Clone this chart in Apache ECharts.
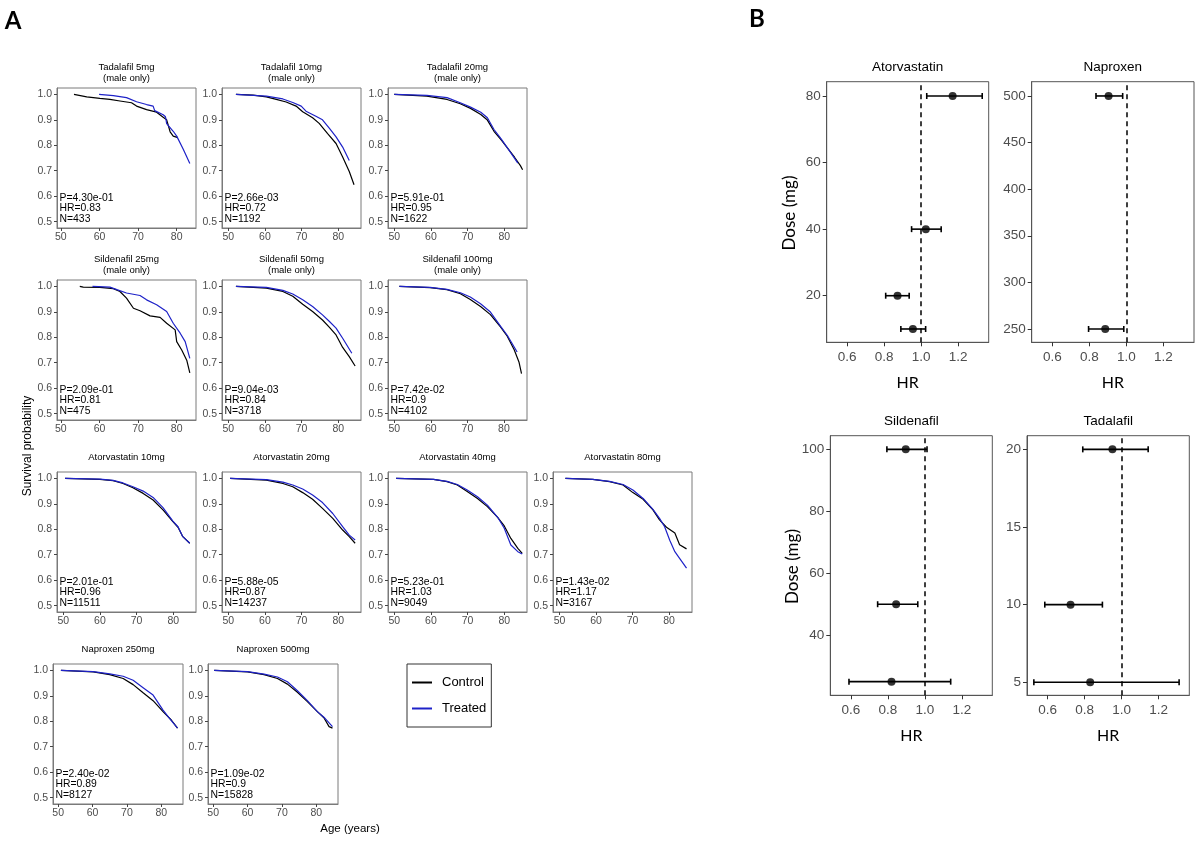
<!DOCTYPE html>
<html>
<head>
<meta charset="utf-8">
<script src="https://cdn.jsdelivr.net/npm/echarts@6/dist/echarts.min.js"></script>
<style>
  html, body { margin: 0; padding: 0; background: #fff; }
  #chart { width: 1200px; height: 846px; }
</style>
</head>
<body>
<div id="chart"></div>
<script>
// ---- Panel A: Kaplan-Meier curves, [age, survival probability] ----
const tad5Control = [[53.4,1.0],[56.7,0.99],[60.1,0.984],[62.7,0.98],[65.3,0.974],[68.3,0.967],[69.6,0.954],[72.2,0.94],[74.8,0.93],[76.5,0.91],[77.4,0.9],[78.3,0.853],[79.1,0.836],[79.6,0.833],[80.3,0.83]];
const tad5Treated = [[59.9,1.0],[63.6,0.995],[67,0.987],[69.6,0.971],[72.2,0.96],[73.9,0.954],[74.3,0.936],[76.5,0.92],[77.1,0.912],[77.4,0.885],[79.1,0.855],[80,0.836],[81.7,0.784],[83.4,0.728]];
const tad10Control = [[52.1,1.0],[56.8,0.997],[60.4,0.99],[63.1,0.98],[65.8,0.97],[68.5,0.954],[70.3,0.932],[73,0.908],[74.8,0.886],[77.1,0.846],[79.4,0.807],[81.2,0.754],[83,0.697],[84.3,0.645]];
const tad10Treated = [[52.1,1.0],[60.4,0.993],[64.9,0.982],[67.6,0.968],[69.9,0.954],[71.2,0.934],[73.9,0.914],[75.7,0.9],[77.6,0.866],[79.4,0.833],[81.2,0.793],[83,0.74]];
const tad20Control = [[50,1.0],[58.9,0.993],[64.4,0.98],[68,0.963],[70.8,0.945],[73.6,0.921],[75.4,0.899],[77.2,0.855],[79.1,0.822],[80.9,0.789],[82.8,0.753],[84.4,0.72],[85,0.704]];
const tad20Treated = [[50,1.0],[58.9,0.996],[64.4,0.987],[68,0.967],[70.8,0.95],[73.6,0.93],[75.4,0.908],[77.2,0.862],[79.1,0.826],[80.9,0.789],[83.7,0.73]];
const sil25Control = [[54.9,1.0],[55.8,0.997],[60.1,0.996],[63.6,0.991],[65.3,0.98],[67,0.954],[68.8,0.914],[70.5,0.904],[73.1,0.884],[75.7,0.878],[77.4,0.855],[79.6,0.829],[80,0.783],[81.3,0.75],[82.6,0.71],[83.4,0.66]];
const sil25Treated = [[58.2,1.0],[62.7,0.997],[64.5,0.987],[67,0.974],[70.5,0.964],[72.2,0.947],[74.8,0.928],[77.4,0.901],[79.1,0.855],[80.9,0.816],[82.2,0.783],[83.4,0.717]];
const sil50Control = [[52.1,1.0],[60.4,0.993],[64.9,0.98],[67.6,0.961],[70.3,0.93],[73,0.901],[75.7,0.868],[77.6,0.839],[79.4,0.809],[81.2,0.76],[83,0.724],[84.6,0.687]];
const sil50Treated = [[52.1,1.0],[60.4,0.996],[64.9,0.984],[67.6,0.97],[70.3,0.947],[73,0.921],[75.7,0.888],[77.6,0.862],[79.4,0.836],[81.2,0.796],[83.7,0.737]];
const sil100Control = [[51.4,1.0],[59.8,0.995],[64.4,0.987],[68.1,0.971],[70.8,0.948],[73.6,0.921],[76.3,0.889],[79.1,0.84],[80.9,0.804],[82.8,0.751],[84.1,0.703],[84.8,0.657]];
const sil100Treated = [[51.4,1.0],[59.8,0.996],[64.4,0.988],[68.1,0.975],[70.8,0.958],[73.6,0.932],[76.3,0.899],[79.1,0.843],[80.9,0.808],[83.6,0.742]];
const ator10Control = [[50.5,1.0],[60,0.996],[63.6,0.991],[66.3,0.98],[69,0.963],[71.8,0.941],[74.5,0.915],[77.2,0.876],[79.9,0.83],[81.3,0.808],[82.6,0.771],[84.5,0.745]];
const ator10Treated = [[50.5,1.0],[60,0.997],[63.6,0.992],[66.3,0.982],[69,0.967],[71.8,0.95],[74.5,0.925],[77.2,0.885],[79.9,0.832],[81.3,0.81],[82.6,0.771],[84.5,0.745]];
const ator20Control = [[50.5,1.0],[60.4,0.993],[64.9,0.98],[67.6,0.967],[70.3,0.944],[73,0.918],[75.7,0.882],[78.5,0.843],[81.2,0.797],[83,0.771],[84.6,0.745]];
const ator20Treated = [[50.5,1.0],[60.4,0.995],[64.9,0.985],[67.6,0.974],[70.3,0.958],[73,0.935],[75.7,0.905],[78.5,0.862],[81.2,0.81],[83,0.777],[84.6,0.758]];
const ator40Control = [[50.5,1.0],[60.7,0.996],[64.4,0.987],[67.2,0.974],[69.9,0.948],[72.7,0.921],[75.4,0.889],[78.2,0.847],[80,0.813],[81.8,0.764],[83.7,0.725],[84.9,0.705]];
const ator40Treated = [[50.5,1.0],[60.7,0.996],[64.4,0.988],[67.2,0.976],[69.9,0.954],[72.7,0.928],[75.4,0.895],[78.2,0.847],[80,0.804],[81.8,0.738],[83.7,0.712],[84.9,0.703]];
const ator80Control = [[51.6,1.0],[59.1,0.996],[63.7,0.987],[67.4,0.974],[70.1,0.944],[72.9,0.918],[75.6,0.876],[77.4,0.837],[79.3,0.808],[81.6,0.785],[82.9,0.739],[84.8,0.723]];
const ator80Treated = [[51.6,1.0],[59.1,0.996],[63.7,0.988],[67.4,0.976],[70.1,0.954],[72.9,0.921],[75.6,0.878],[77.4,0.843],[78.8,0.81],[80.2,0.757],[81.6,0.712],[82.9,0.686],[84.8,0.647]];
const nap250Control = [[50.8,1.0],[60.2,0.994],[65,0.983],[68.9,0.968],[71.8,0.944],[74.7,0.912],[77.6,0.881],[80.5,0.838],[82.9,0.805],[84.7,0.773]];
const nap250Treated = [[50.8,1.0],[60.2,0.995],[65,0.986],[68.9,0.977],[71.8,0.961],[74.7,0.932],[77.6,0.903],[80.5,0.844],[82.9,0.803],[84.7,0.773]];
const nap500Control = [[50.3,1.0],[60,0.994],[64.8,0.983],[68.7,0.968],[71.6,0.946],[74.5,0.914],[77.4,0.877],[80.3,0.838],[82.2,0.814],[83.7,0.779],[84.7,0.773]];
const nap500Treated = [[50.3,1.0],[60,0.995],[64.8,0.985],[68.7,0.974],[71.6,0.955],[74.5,0.92],[77.4,0.881],[80.3,0.838],[82.2,0.816],[84.7,0.779]];

const panelNames = ["Tadalafil 5mg", "Tadalafil 10mg", "Tadalafil 20mg",
  "Sildenafil 25mg", "Sildenafil 50mg", "Sildenafil 100mg",
  "Atorvastatin 10mg", "Atorvastatin 20mg", "Atorvastatin 40mg", "Atorvastatin 80mg",
  "Naproxen 250mg", "Naproxen 500mg"];
const panelNotes = ["(male only)", "(male only)", "(male only)", "(male only)", "(male only)", "(male only)",
  "", "", "", "", "", ""];
const pValues = ["4.30e-01", "2.66e-03", "5.91e-01", "2.09e-01", "9.04e-03", "7.42e-02",
  "2.01e-01", "5.88e-05", "5.23e-01", "1.43e-02", "2.40e-02", "1.09e-02"];
const hrValues = ["0.83", "0.72", "0.95", "0.81", "0.84", "0.9", "0.96", "0.87", "1.03", "1.17", "0.89", "0.9"];
const nValues = ["433", "1192", "1622", "475", "3718", "4102", "11511", "14237", "9049", "3167", "8127", "15828"];
const controlCurves = [tad5Control, tad10Control, tad20Control, sil25Control, sil50Control, sil100Control,
  ator10Control, ator20Control, ator40Control, ator80Control, nap250Control, nap500Control];
const treatedCurves = [tad5Treated, tad10Treated, tad20Treated, sil25Treated, sil50Treated, sil100Treated,
  ator10Treated, ator20Treated, ator40Treated, ator80Treated, nap250Treated, nap500Treated];
const ageTicks = [50, 60, 70, 80];
const survTicks = [0.5, 0.6, 0.7, 0.8, 0.9, 1.0];

// ---- Panel B: hazard ratio by dose ----
const forestDrugs = ["Atorvastatin", "Naproxen", "Sildenafil", "Tadalafil"];
const atorvaDose = [80, 40, 20, 10];
const atorvaHR = [1.17, 1.025, 0.872, 0.955];
const atorvaLow = [1.03, 0.948, 0.808, 0.89];
const atorvaHigh = [1.33, 1.108, 0.935, 1.024];
const naproxenDose = [500, 250];
const naproxenHR = [0.904, 0.886];
const naproxenLow = [0.836, 0.796];
const naproxenHigh = [0.98, 0.986];
const sildenafilDose = [100, 50, 25];
const sildenafilHR = [0.897, 0.845, 0.82];
const sildenafilLow = [0.795, 0.745, 0.59];
const sildenafilHigh = [1.012, 0.962, 1.14];
const tadalafilDose = [20, 10, 5];
const tadalafilHR = [0.95, 0.724, 0.83];
const tadalafilLow = [0.79, 0.585, 0.526];
const tadalafilHigh = [1.143, 0.896, 1.31];
const hrTicks = [0.6, 0.8, 1.0, 1.2];
const doseTicks = [[20, 40, 60, 80], [250, 300, 350, 400, 450, 500], [40, 60, 80, 100], [5, 10, 15, 20]];

// ---- layout ----
const HELV = '"Liberation Sans", Arial, Helvetica, sans-serif';
const CAL = 'Lato, "Open Sans", sans-serif';
const BLUE = '#1e22c8';
const rowTops = [88, 280, 472, 664];
const colLefts = [57, 222, 388, 553];
const lastRowLefts = [53, 208];
const cells = [[0,0],[0,1],[0,2],[1,0],[1,1],[1,2],[2,0],[2,1],[2,2],[2,3],[3,0],[3,1]];
const ageRanges = [[49,85],[48.3,86.2],[48.3,86.2],[49,85],[48.3,86.2],[48.3,86.3],
  [48.3,86.2],[48.3,86.2],[48.3,86.2],[48.2,86.3],[48.5,86.3],[48.5,86.3]];
const forestBoxes = [
  { left: 826.7, top: 81.7, width: 162, height: 260.6 },
  { left: 1031.7, top: 81.7, width: 162.3, height: 260.6 },
  { left: 830.3, top: 435.7, width: 162, height: 259.6 },
  { left: 1027, top: 435.7, width: 162.3, height: 259.6 }
];
const doseRanges = [[6, 84.3], [235.7, 515.3], [20.6, 104.4], [4.16, 20.88]];
const hrRange = [0.489, 1.365];

const grids = [], xAxes = [], yAxes = [], series = [], graphics = [];

function txt(x, y, text, size, opts) {
  opts = opts || {};
  graphics.push({
    type: 'text', x: x, y: y, rotation: opts.rotation || 0, silent: true,
    style: {
      text: text, fontSize: size, fontFamily: opts.font || HELV,
      fontWeight: opts.weight || 'normal', fill: opts.color || '#000',
      align: opts.align || 'center', verticalAlign: 'middle'
    }
  });
}

cells.forEach(function (cell, i) {
  const r = cell[0], c = cell[1];
  const left = r === 3 ? lastRowLefts[c] : colLefts[c];
  const width = r === 3 ? 130 : 139;
  const top = rowTops[r], height = 140;
  grids.push({ left: left, top: top, width: width, height: height, show: true,
    borderColor: '#7a7a7a', borderWidth: 1, containLabel: false });
  xAxes.push({
    type: 'value', gridIndex: i, min: ageRanges[i][0], max: ageRanges[i][1],
    axisLine: { show: true, lineStyle: { color: '#7a7a7a' } },
    axisTick: { show: true, length: 3, customValues: ageTicks, lineStyle: { color: '#444' } },
    axisLabel: { customValues: ageTicks, margin: 4, fontSize: 10.5, fontFamily: HELV, color: '#4d4d4d' },
    splitLine: { show: false }
  });
  yAxes.push({
    type: 'value', gridIndex: i, min: 0.475, max: 1.025,
    axisLine: { show: true, lineStyle: { color: '#7a7a7a' } },
    axisTick: { show: true, length: 3, customValues: survTicks, lineStyle: { color: '#444' } },
    axisLabel: { customValues: survTicks, margin: 5, fontSize: 10.5, fontFamily: HELV, color: '#4d4d4d',
      formatter: function (v) { return v.toFixed(1); } },
    splitLine: { show: false }
  });
  series.push({ name: 'Control', type: 'line', xAxisIndex: i, yAxisIndex: i, data: controlCurves[i],
    showSymbol: false, color: '#000', lineStyle: { color: '#000', width: 1.2 }, silent: true, z: 2 });
  series.push({ name: 'Treated', type: 'line', xAxisIndex: i, yAxisIndex: i, data: treatedCurves[i],
    showSymbol: false, color: BLUE, lineStyle: { color: BLUE, width: 1.2 }, silent: true, z: 3 });

  const cx = left + width / 2;
  if (panelNotes[i]) {
    txt(cx, top - 21, panelNames[i], 9.5);
    txt(cx, top - 10, panelNotes[i], 9.5);
  } else {
    txt(cx, top - 15, panelNames[i], 9.5);
  }
  const bottom = top + height;
  txt(left + 2.5, bottom - 30, 'P=' + pValues[i], 10.4, { align: 'left' });
  txt(left + 2.5, bottom - 19.5, 'HR=' + hrValues[i], 10.4, { align: 'left' });
  txt(left + 2.5, bottom - 9, 'N=' + nValues[i], 10.4, { align: 'left' });
});

const forestDose = [atorvaDose, naproxenDose, sildenafilDose, tadalafilDose];
const forestHR = [atorvaHR, naproxenHR, sildenafilHR, tadalafilHR];
const forestLow = [atorvaLow, naproxenLow, sildenafilLow, tadalafilLow];
const forestHigh = [atorvaHigh, naproxenHigh, sildenafilHigh, tadalafilHigh];

forestBoxes.forEach(function (b, k) {
  const gi = grids.length;
  grids.push({ left: b.left, top: b.top, width: b.width, height: b.height, show: true,
    borderColor: '#555', borderWidth: 1 });
  xAxes.push({
    type: 'value', gridIndex: gi, min: hrRange[0], max: hrRange[1],
    axisLine: { show: true, lineStyle: { color: '#555' } },
    axisTick: { show: true, length: 4, customValues: hrTicks, lineStyle: { color: '#333' } },
    axisLabel: { customValues: hrTicks, margin: 8, fontSize: 13.5, fontFamily: HELV, color: '#4d4d4d',
      formatter: function (v) { return v.toFixed(1); } },
    splitLine: { show: false }
  });
  yAxes.push({
    type: 'value', gridIndex: gi, min: doseRanges[k][0], max: doseRanges[k][1],
    axisLine: { show: true, lineStyle: { color: '#555' } },
    axisTick: { show: true, length: 4, customValues: doseTicks[k], lineStyle: { color: '#333' } },
    axisLabel: { customValues: doseTicks[k], margin: 6, fontSize: 13.5, fontFamily: HELV, color: '#4d4d4d' },
    splitLine: { show: false }
  });
  const bars = forestDose[k].map(function (d, j) { return [forestLow[k][j], forestHigh[k][j], d]; });
  series.push({
    type: 'custom', xAxisIndex: gi, yAxisIndex: gi, data: bars, silent: true,
    encode: { x: [0, 1], y: 2 },
    renderItem: function (params, api) {
      const p0 = api.coord([api.value(0), api.value(2)]);
      const p1 = api.coord([api.value(1), api.value(2)]);
      const cap = 3;
      const st = { stroke: '#000', lineWidth: 1.6 };
      return { type: 'group', children: [
        { type: 'line', shape: { x1: p0[0], y1: p0[1], x2: p1[0], y2: p1[1] }, style: st },
        { type: 'line', shape: { x1: p0[0], y1: p0[1] - cap, x2: p0[0], y2: p0[1] + cap }, style: st },
        { type: 'line', shape: { x1: p1[0], y1: p1[1] - cap, x2: p1[0], y2: p1[1] + cap }, style: st }
      ] };
    }
  });
  series.push({
    type: 'scatter', xAxisIndex: gi, yAxisIndex: gi, silent: true, symbolSize: 8,
    itemStyle: { color: '#000' }, z: 5,
    data: forestDose[k].map(function (d, j) { return [forestHR[k][j], d]; }),
    markLine: { silent: true, symbol: 'none', label: { show: false },
      lineStyle: { color: '#000', type: [5, 4], width: 1.5 }, data: [{ xAxis: 1 }] }
  });
  const cx = b.left + b.width / 2;
  txt(cx, b.top - 14, forestDrugs[k], 13.5);
  txt(cx, b.top + b.height + 41, 'HR', 16, { font: CAL });
  if (k % 2 === 0) {
    txt(b.left - 37.5, b.top + b.height / 2 + 1, 'Dose (mg)', 17, { font: CAL, rotation: Math.PI / 2 });
  }
});

txt(13, 21, 'A', 24, { font: CAL, weight: 'bold' });
txt(757, 19, 'B', 24, { font: CAL, weight: 'bold' });
txt(27.5, 446, 'Survival probability', 12, { rotation: Math.PI / 2 });
txt(350, 829, 'Age (years)', 11.5);

const chart = echarts.init(document.getElementById('chart'), null, { renderer: 'canvas' });
chart.setOption({
  animation: false,
  backgroundColor: '#fff',
  grid: grids,
  xAxis: xAxes,
  yAxis: yAxes,
  legend: {
    orient: 'vertical', left: 407, top: 664, data: ['Control', 'Treated'],
    selectedMode: false, icon: 'rect', itemWidth: 20, itemHeight: 2, itemGap: 13,
    padding: [12, 5, 12, 5], borderColor: '#333', borderWidth: 1,
    textStyle: { fontSize: 13, fontFamily: HELV, color: '#000', padding: [0, 0, 0, 5] }
  },
  series: series,
  graphic: graphics
});
</script>
</body>
</html>
